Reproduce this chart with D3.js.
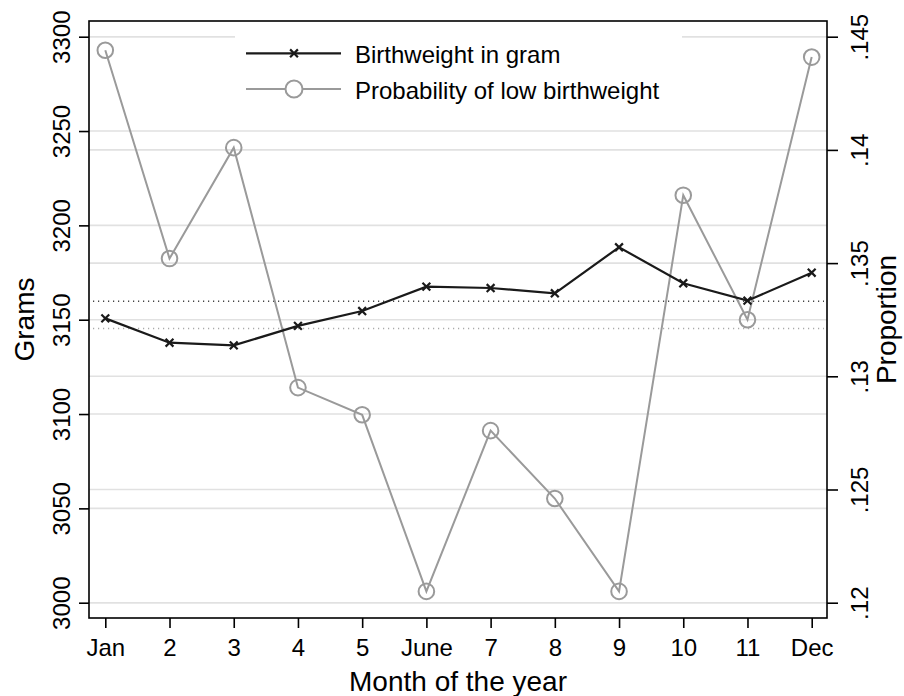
<!DOCTYPE html>
<html>
<head>
<meta charset="utf-8">
<script src="https://cdn.jsdelivr.net/npm/d3@7"></script>
<style>
  html, body { margin: 0; padding: 0; background: #fff; }
  svg { display: block; font-family: "Liberation Sans", Arial, sans-serif; }
</style>
</head>
<body>
<svg id="chart" width="904" height="696"></svg>
<script>
// Month labels along the x axis
const months = ["Jan", "2", "3", "4", "5", "June", "7", "8", "9", "10", "11", "Dec"];
// Mean birthweight in grams by month (left axis)
const birthweight = [3150.7, 3137.8, 3136.4, 3146.7, 3154.6, 3167.5, 3166.8, 3164.0, 3188.4, 3169.3, 3160.1, 3174.9];
// Probability of low birthweight by month (right axis)
const lowBirthweight = [0.1444, 0.1352, 0.1401, 0.1295, 0.1283, 0.1205, 0.1276, 0.1246, 0.1205, 0.1380, 0.1325, 0.1441];
// Axis ticks
const gramTicks = [3000, 3050, 3100, 3150, 3200, 3250, 3300];
const propTicks = [0.12, 0.125, 0.13, 0.135, 0.14, 0.145];
const seriesNames = ["Birthweight in gram", "Probability of low birthweight"];

const svg = d3.select("#chart");
const frame = { left: 89, right: 827, top: 21, bottom: 618 };

const x = d3.scalePoint().domain(months).range([105.3, 811.7]);
const yL = d3.scaleLinear().domain([3000, 3300]).range([602.7, 36.7]);
const yR = d3.scaleLinear().domain([0.12, 0.145]).range([602.7, 36.7]);

const dark = "#1a1a1a", grey = "#9a9a9a", gridCol = "#e1e1e1";
const tickFont = 24, titleFont = 28;

// Grid lines for both axes
const grid = svg.append("g");
gramTicks.forEach(t => grid.append("line")
  .attr("x1", frame.left).attr("x2", frame.right)
  .attr("y1", yL(t)).attr("y2", yL(t))
  .attr("stroke", gridCol).attr("stroke-width", 1.6));
propTicks.forEach(t => grid.append("line")
  .attr("x1", frame.left).attr("x2", frame.right)
  .attr("y1", yR(t)).attr("y2", yR(t))
  .attr("stroke", gridCol).attr("stroke-width", 1.6));

// Dotted reference lines at the yearly means
const meanW = d3.mean(birthweight), meanP = d3.mean(lowBirthweight);
svg.append("line")
  .attr("x1", frame.left + 4).attr("x2", frame.right - 3)
  .attr("y1", yL(meanW)).attr("y2", yL(meanW))
  .attr("stroke", "#444").attr("stroke-width", 1.6).attr("stroke-dasharray", "1.2,3.8");
svg.append("line")
  .attr("x1", frame.left + 4).attr("x2", frame.right - 3)
  .attr("y1", yR(meanP)).attr("y2", yR(meanP))
  .attr("stroke", "#aaa").attr("stroke-width", 1.6).attr("stroke-dasharray", "1.2,3.8");

// Low birthweight probability series
const lineP = d3.line().x((d, i) => x(months[i])).y(d => yR(d));
svg.append("path").datum(lowBirthweight)
  .attr("d", lineP).attr("fill", "none")
  .attr("stroke", grey).attr("stroke-width", 2);
svg.append("g").selectAll("circle").data(lowBirthweight).join("circle")
  .attr("cx", (d, i) => x(months[i])).attr("cy", d => yR(d))
  .attr("r", 7.8).attr("fill", "none")
  .attr("stroke", grey).attr("stroke-width", 2);

// Birthweight series
const lineW = d3.line().x((d, i) => x(months[i])).y(d => yL(d));
svg.append("path").datum(birthweight)
  .attr("d", lineW).attr("fill", "none")
  .attr("stroke", dark).attr("stroke-width", 2.2);
const cross = (g, cx, cy, s) => g.append("path")
  .attr("d", `M${cx - s},${cy - s}L${cx + s},${cy + s}M${cx - s},${cy + s}L${cx + s},${cy - s}`)
  .attr("stroke", dark).attr("stroke-width", 2.2).attr("fill", "none");
const crosses = svg.append("g");
birthweight.forEach((d, i) => cross(crosses, x(months[i]), yL(d), 3.9));

// Legend (white box over the grid)
const lg = svg.append("g");
lg.append("rect").attr("x", 235).attr("y", 26).attr("width", 447).attr("height", 88).attr("fill", "#fff");
const rows = [53.3, 89];
lg.append("line").attr("x1", 246).attr("x2", 341).attr("y1", rows[0]).attr("y2", rows[0])
  .attr("stroke", dark).attr("stroke-width", 2.2);
cross(lg, 294, rows[0], 3.9);
lg.append("line").attr("x1", 246).attr("x2", 341).attr("y1", rows[1]).attr("y2", rows[1])
  .attr("stroke", grey).attr("stroke-width", 2);
lg.append("circle").attr("cx", 294).attr("cy", rows[1]).attr("r", 8.5)
  .attr("fill", "#fff").attr("stroke", grey).attr("stroke-width", 2);
seriesNames.forEach((n, i) => lg.append("text")
  .attr("x", 355).attr("y", rows[i] + 10).attr("font-size", 24).attr("fill", "#000").text(n));

// Plot frame
svg.append("rect")
  .attr("x", frame.left).attr("y", frame.top)
  .attr("width", frame.right - frame.left).attr("height", frame.bottom - frame.top)
  .attr("fill", "none").attr("stroke", "#000").attr("stroke-width", 1.6);

// Left axis
const axL = svg.append("g")
  .attr("transform", `translate(${frame.left},0)`)
  .call(d3.axisLeft(yL).tickValues(gramTicks).tickSize(10).tickFormat(d3.format("d")));
axL.select(".domain").remove();
axL.selectAll(".tick line").attr("stroke", "#000").attr("stroke-width", 1.6);
axL.selectAll(".tick text")
  .attr("x", null).attr("dy", null).attr("text-anchor", "middle")
  .attr("transform", "translate(-19,0) rotate(-90)")
  .attr("font-size", tickFont).attr("font-family", "Liberation Sans, Arial, sans-serif").attr("fill", "#000");

// Right axis
const fmtProp = d => d3.format("")(+d.toFixed(3)).replace(/^0/, "");
const axR = svg.append("g")
  .attr("transform", `translate(${frame.right},0)`)
  .call(d3.axisRight(yR).tickValues(propTicks).tickSize(11).tickFormat(fmtProp));
axR.select(".domain").remove();
axR.selectAll(".tick line").attr("stroke", "#000").attr("stroke-width", 1.6);
axR.selectAll(".tick text")
  .attr("x", null).attr("dy", null).attr("text-anchor", "middle")
  .attr("transform", "translate(41,0) rotate(-90)")
  .attr("font-size", tickFont).attr("font-family", "Liberation Sans, Arial, sans-serif").attr("fill", "#000");

// Bottom axis
const axB = svg.append("g")
  .attr("transform", `translate(0,${frame.bottom})`)
  .call(d3.axisBottom(x).tickSize(10));
axB.select(".domain").remove();
axB.selectAll(".tick line").attr("stroke", "#000").attr("stroke-width", 1.6);
axB.selectAll(".tick text")
  .attr("y", 38).attr("dy", null)
  .attr("font-size", tickFont).attr("font-family", "Liberation Sans, Arial, sans-serif").attr("fill", "#000");

// Axis titles
svg.append("text").attr("transform", "translate(34,319.5) rotate(-90)")
  .attr("text-anchor", "middle").attr("font-size", titleFont).text("Grams");
svg.append("text").attr("transform", "translate(896,319.5) rotate(-90)")
  .attr("text-anchor", "middle").attr("font-size", titleFont).text("Proportion");
svg.append("text").attr("x", (frame.left + frame.right) / 2).attr("y", 690.5)
  .attr("text-anchor", "middle").attr("font-size", titleFont).text("Month of the year");
</script>
</body>
</html>
